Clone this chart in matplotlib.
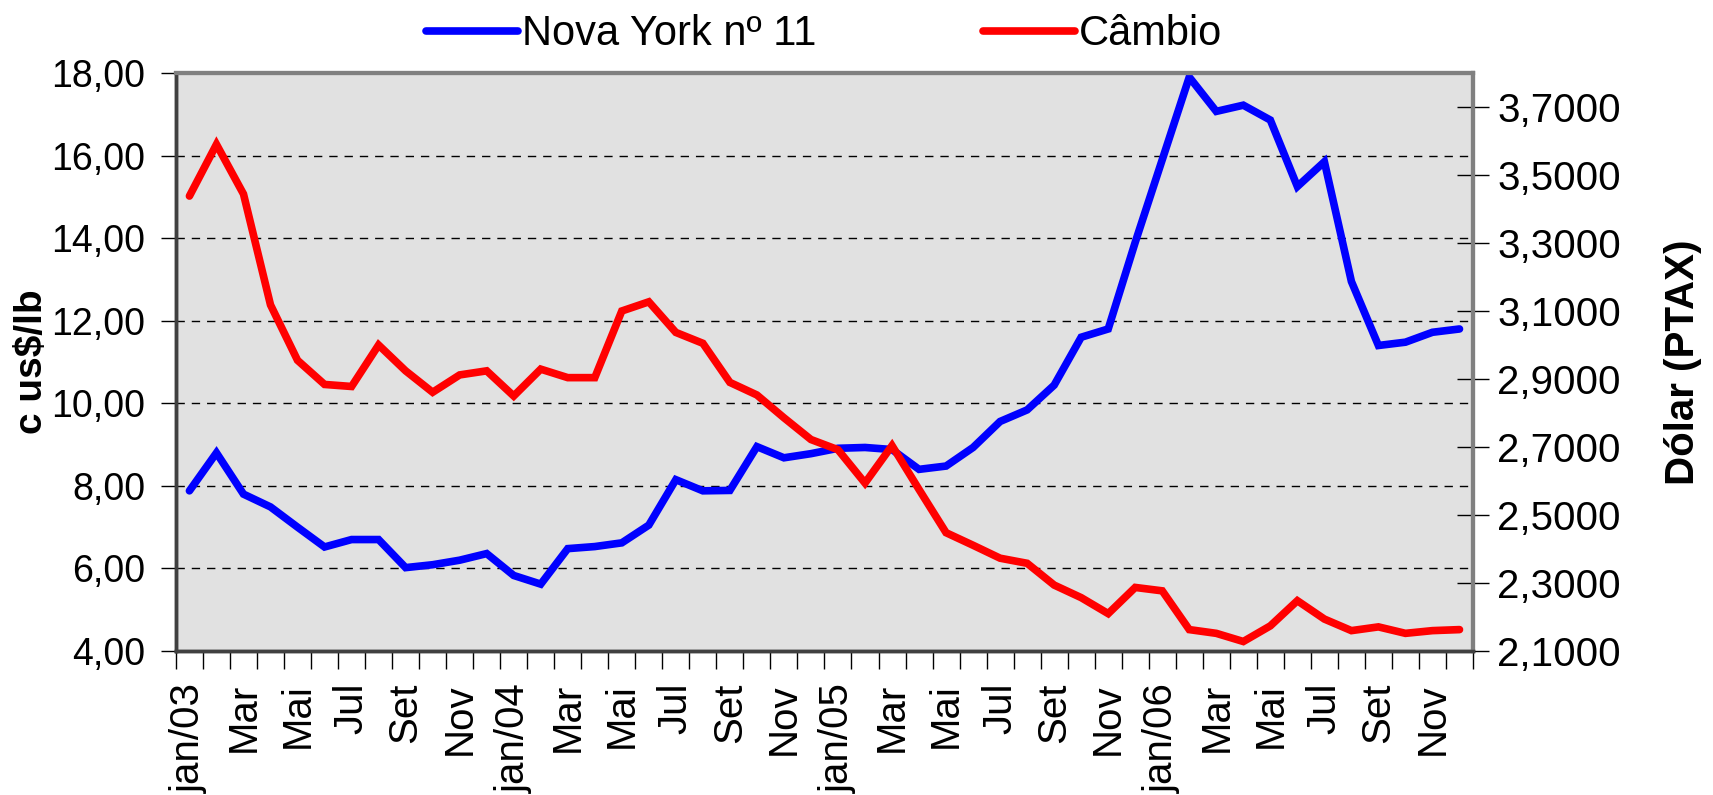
import numpy as np
import matplotlib
matplotlib.use('Agg')
import matplotlib.pyplot as plt
from matplotlib.ticker import FuncFormatter

plt.rcParams['font.family'] = ['Liberation Sans', 'DejaVu Sans']

# meses jan/03 .. dez/06
tick_labels = ['jan/03', 'Mar', 'Mai', 'Jul', 'Set', 'Nov',
               'jan/04', 'Mar', 'Mai', 'Jul', 'Set', 'Nov',
               'jan/05', 'Mar', 'Mai', 'Jul', 'Set', 'Nov',
               'jan/06', 'Mar', 'Mai', 'Jul', 'Set', 'Nov']

# Nova York nº 11 (c us$/lb)
ny11 = [7.88, 8.80, 7.80, 7.49, 7.00, 6.52, 6.70, 6.70, 6.02, 6.09, 6.20, 6.36,
        5.83, 5.62, 6.48, 6.53, 6.62, 7.05, 8.15, 7.88, 7.89, 8.95, 8.68, 8.78,
        8.91, 8.93, 8.88, 8.40, 8.48, 8.93, 9.56, 9.84, 10.44, 11.60, 11.80, 13.90,
        15.90, 17.90, 17.07, 17.22, 16.86, 15.25, 15.85, 12.95, 11.40, 11.48, 11.72, 11.80]

# Cambio (Dolar PTAX)
cambio = [3.438, 3.590, 3.444, 3.118, 2.955, 2.884, 2.878, 3.000, 2.924, 2.861, 2.912, 2.924,
          2.850, 2.929, 2.904, 2.904, 3.100, 3.127, 3.037, 3.005, 2.890, 2.853, 2.786, 2.722,
          2.692, 2.594, 2.704, 2.575, 2.448, 2.411, 2.373, 2.358, 2.294, 2.257, 2.210, 2.287,
          2.277, 2.163, 2.152, 2.128, 2.174, 2.248, 2.194, 2.160, 2.171, 2.152, 2.160, 2.163]

x = np.arange(len(ny11))

fig = plt.figure(figsize=(17.13, 7.95), dpi=100)
ax = fig.add_axes([0.1027, 0.1811, 0.7572, 0.7271])
ax.set_facecolor('#e1e1e1')
ax2 = ax.twinx()

l1, = ax.plot(x, ny11, color='#0000ff', lw=5.5, solid_joinstyle='miter',
              solid_capstyle='round', label='Nova York nº 11')
l2, = ax2.plot(x, cambio, color='#ff0000', lw=5.5, solid_joinstyle='miter',
               solid_capstyle='round', label='Câmbio')

# eixo x
ax.set_xlim(-0.5, len(ny11) - 0.5)
ax.set_xticks(np.arange(-0.5, len(ny11), 1))
ax.set_xticklabels([])
ax.set_xticks(np.arange(0, len(ny11), 2), minor=True)
ax.set_xticklabels(tick_labels, minor=True, rotation=90, fontsize=29)
ax.tick_params(axis='x', which='major', direction='out', length=13, width=1, color='black')
ax.tick_params(axis='x', which='minor', length=0, pad=23)

# eixo esquerdo
ax.set_ylim(4, 18)
ax.set_yticks(np.arange(4, 18.1, 2))
ax.yaxis.set_major_formatter(FuncFormatter(lambda v, p: ('%.2f' % v).replace('.', ',')))
ax.tick_params(axis='y', direction='out', length=11, width=1, labelsize=27, pad=11)
ax.yaxis.grid(True, color='black', lw=1.0, linestyle=(0, (6, 5)))
ax.set_axisbelow(True)
ax.set_ylabel('c us$/lb', fontsize=28, fontweight='bold')
ax.yaxis.set_label_coords(-0.111, 0.5)
ax.yaxis.label.set_va('center')

# eixo direito
ax2.set_ylim(2.1, 3.8)
ax2.set_yticks(np.arange(2.1, 3.75, 0.2))
ax2.yaxis.set_major_formatter(FuncFormatter(lambda v, p: ('%.4f' % v).replace('.', ',')))
ax2.tick_params(axis='y', direction='inout', length=23, width=1, labelsize=29, pad=6)
ax2.set_ylabel('Dólar (PTAX)', fontsize=29, fontweight='bold')
ax2.yaxis.set_label_coords(1.162, 0.5)
ax2.yaxis.label.set_va('center')

for a in (ax, ax2):
    for s in ('top', 'right'):
        a.spines[s].set_color('#808080')
        a.spines[s].set_linewidth(3)
    for s in ('left', 'bottom'):
        a.spines[s].set_color('#404040')
        a.spines[s].set_linewidth(2.5)

fig.legend(handles=[l1, l2], loc='center', bbox_to_anchor=(0.481, 0.957), ncol=2,
           frameon=False, fontsize=30, handlelength=2.2, handletextpad=0.1,
           columnspacing=4.0, borderpad=0)

fig.savefig('out.png', dpi=100)
